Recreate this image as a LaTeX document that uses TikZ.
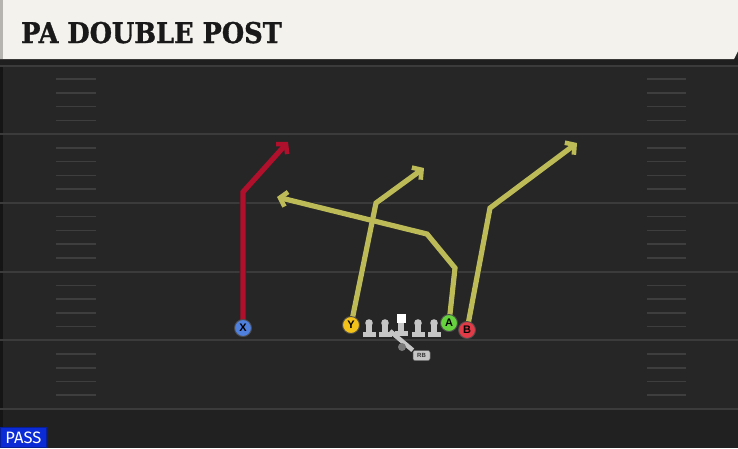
\documentclass[tikz,border=0pt]{standalone}
\usepackage{fontspec}
\usepackage{graphicx}
\usetikzlibrary{arrows.meta}
\newfontfamily\titlefont[BoldFeatures={FakeBold=1.2}]{DejaVu Serif}
\newfontfamily\labelfont{Liberation Sans}
\newfontfamily\passfont{Fira Sans}
\definecolor{fieldbg}{HTML}{262626}
\definecolor{fieldlow}{HTML}{212121}
\definecolor{yardcol}{HTML}{3B3B3B}
\definecolor{hashcol}{HTML}{3E3E3E}
\definecolor{bannercol}{HTML}{F4F2EC}
\definecolor{banneredge}{HTML}{B5B4AE}
\definecolor{routered}{HTML}{B0102C}
\definecolor{routeyel}{HTML}{BCBB58}
\definecolor{pblue}{HTML}{4F80DE}
\definecolor{pyellow}{HTML}{F2C21B}
\definecolor{pgreen}{HTML}{66D23E}
\definecolor{pred}{HTML}{E23B48}
\definecolor{lmgray}{HTML}{C6C6C6}
\definecolor{dotgray}{HTML}{7A7A7A}
\definecolor{passblue}{HTML}{0B2BD6}
\tikzset{
  yard/.style={draw=yardcol, line width=2.2pt},
  hashmark/.style={draw=hashcol, line width=1.6pt},
  routeline/.style={line width=5.2pt, line join=miter,
     -{Straight Barb[length=6.5pt,width=15pt,line width=4.6pt]}},
  routeshadow/.style={line width=6.6pt, line join=miter, draw=black!85,
     -{Straight Barb[length=7pt,width=16.5pt,line width=6pt]}},
  player/.style={circle, minimum size=17pt, inner sep=0pt, line width=0.9pt,
     draw=black!70, font=\labelfont\bfseries\fontsize{11}{11}\selectfont},
  lineman/.pic={
    \fill[lmgray] (-2.6,0) rectangle (2.6,10);
    \fill[lmgray] (-6.5,8.5) rectangle (6.5,13.5);
    \fill[lmgray] (0,0) circle (3.8);
  },
  centerman/.pic={
    \fill[lmgray] (-2.6,0) rectangle (2.6,14);
    \fill[lmgray] (-6.5,12.5) rectangle (6.5,17.5);
    \fill[white] (-4.5,-4.5) rectangle (4.5,4.5);
  },
  rbtag/.style={rounded corners=2pt, fill=lmgray, draw=black!60, line width=0.5pt,
     minimum width=17pt, minimum height=10pt, inner sep=0pt,
     font=\labelfont\bfseries\fontsize{6}{6}\selectfont, text=black!80},
  passtag/.style={fill=passblue, draw=passblue!70!black, line width=0.8pt,
     minimum width=46pt, minimum height=20pt, inner sep=0pt, text=white,
     font=\passfont\fontsize{16.5}{16.5}\selectfont},
}
\begin{document}
\begin{tikzpicture}[x=1pt,y=-1pt]
\useasboundingbox (0,0) rectangle (738,448);
% field
\fill[fieldbg] (0,0) rectangle (738,448);
\fill[fieldlow] (0,409) rectangle (738,448);
\fill[black!45!fieldbg] (0,59) rectangle (2.5,448);
% yard lines and hash marks
\foreach \y in {65.5,134.2,202.9,271.6,340.3,409} {
  \draw[yard] (0,\y) -- (738,\y);
}
\foreach \y in {65.5,134.2,202.9,271.6,340.3} {
  \foreach \j in {1,2,3,4} {
    \draw[hashmark] (56,{\y+\j*13.7}) -- (96,{\y+\j*13.7});
    \draw[hashmark] (647,{\y+\j*13.7}) -- (686,{\y+\j*13.7});
  }
}
% banner
\fill[black!88] (0,58) rectangle (738,64.5);
\fill[bannercol] (0,0) -- (738,0) -- (738,51) -- (734,59) -- (0,59) -- cycle;
\fill[banneredge] (0,0) rectangle (3,59);
\node[anchor=base west, inner sep=0pt, text=black!90] (title) at (21,43)
  {\scalebox{0.9}[1]{\titlefont\bfseries\fontsize{28.5}{28.5}\selectfont PA DOUBLE POST}};
% player positions
\coordinate (Xp) at (243,328);
\coordinate (Yp) at (351,325);
\coordinate (Ap) at (449,323);
\coordinate (Bp) at (467,330);
\coordinate (xbend) at (243,192);
\coordinate (xend) at (288,142);
\coordinate (ybend) at (376,203);
\coordinate (yend) at (424,168);
\coordinate (abend1) at (455,268);
\coordinate (abend2) at (427,234);
\coordinate (aend) at (277,197);
\coordinate (bbend) at (490,208);
\coordinate (bend) at (577,143);
% routes
\draw[routeshadow] (Xp) -- (xbend) -- (xend);
\draw[routeshadow] (Yp) -- (ybend) -- (yend);
\draw[routeshadow] (Ap) -- (abend1) -- (abend2) -- (aend);
\draw[routeshadow] (Bp) -- (bbend) -- (bend);
\draw[routeline, draw=routered] (Xp) -- (xbend) -- (xend);
\draw[routeline, draw=routeyel] (Yp) -- (ybend) -- (yend);
\draw[routeline, draw=routeyel] (Ap) -- (abend1) -- (abend2) -- (aend);
\draw[routeline, draw=routeyel] (Bp) -- (bbend) -- (bend);
% offensive line and back
\coordinate (rbstart) at (390,331);
\node[rbtag] (RB) at (421.5,355.5) {RB};
\draw[lmgray, line width=4.5pt] (rbstart) -- (RB.north west);
\fill[dotgray] (402,347) circle (4);
\pic (LT) at (369,323) {lineman};
\pic (LG) at (385,323) {lineman};
\pic (C) at (401,318) {centerman};
\pic (RG) at (418,323) {lineman};
\pic (RT) at (434,323) {lineman};
% players
\node[player, fill=pblue] (X) at (Xp) {X};
\node[player, fill=pyellow] (Y) at (Yp) {Y};
\node[player, fill=pgreen] (A) at (Ap) {A};
\node[player, fill=pred] (B) at (Bp) {B};
% pass tag
\node[passtag, anchor=south west] (pass) at (0,448) {PASS};
\end{tikzpicture}
\end{document}
